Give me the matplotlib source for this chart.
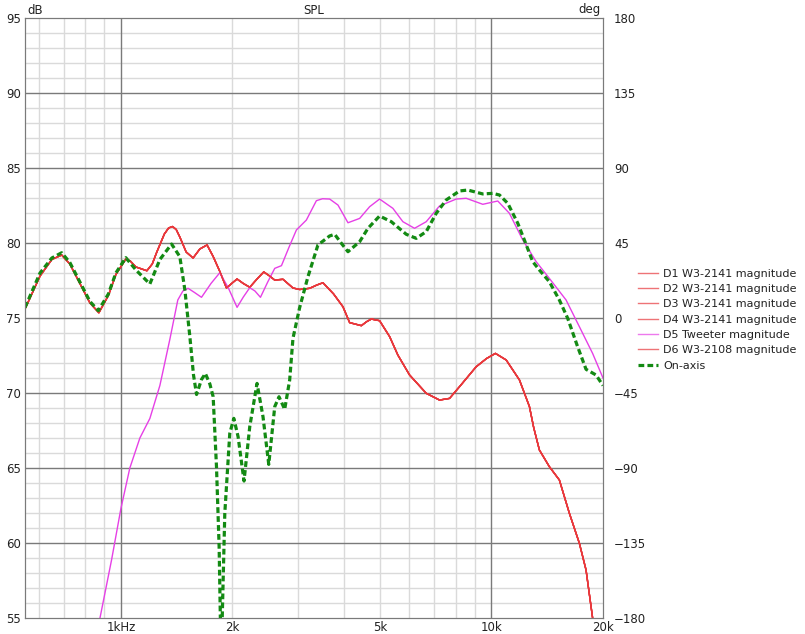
import matplotlib.pyplot as plt
from matplotlib.ticker import FixedLocator, NullFormatter

# D1..D4 / D6 woofer magnitude (all the same curve on screen)
woofer_freq = [551, 605, 651, 692, 728, 775, 825, 872, 925, 969, 1031, 1060, 1098, 1175,
               1215, 1250, 1310, 1345, 1378, 1410, 1442, 1500, 1566, 1633, 1708, 1774,
               1849, 1927, 1990, 2058, 2140, 2227, 2330, 2429, 2520, 2600, 2738, 2913,
               3037, 3232, 3380, 3510, 3750, 3974, 4143, 4456, 4600, 4740, 4990, 5311,
               5590, 6012, 6668, 7242, 7706, 8199, 9094, 9700, 10250, 10960, 11900,
               12660, 13000, 13470, 14330, 15250, 16230, 17270, 18000, 18750, 20000]
woofer_db = [75.6, 77.8, 78.9, 79.2, 78.6, 77.3, 76.0, 75.35, 76.5, 77.9, 78.93, 78.8,
             78.4, 78.15, 78.6, 79.4, 80.6, 81.0, 81.1, 80.9, 80.4, 79.4, 79.0, 79.6,
             79.87, 79.1, 78.1, 77.0, 77.3, 77.6, 77.3, 77.05, 77.6, 78.07, 77.8,
             77.53, 77.58, 77.0, 76.9, 76.98, 77.2, 77.35, 76.6, 75.75, 74.69, 74.49,
             74.75, 74.93, 74.82, 73.76, 72.53, 71.2, 69.98, 69.53, 69.64, 70.42, 71.75,
             72.3, 72.64, 72.2, 70.87, 69.1, 67.7, 66.2, 65.09, 64.2, 61.98, 59.98, 58.2,
             55.0, 51.5]

# D5 tweeter magnitude
tweeter_freq = [860, 878, 944, 1000, 1057, 1125, 1197, 1274, 1356, 1424, 1470, 1518,
                1580, 1650, 1750, 1849, 1950, 2058, 2140, 2227, 2300, 2380, 2490,
                2601, 2712, 2840, 2976, 3166, 3369, 3500, 3659, 3853, 4100, 4409,
                4691, 4990, 5420, 5767, 6201, 6668, 7242, 8033, 8548, 9476, 10400,
                11180, 12150, 13200, 14330, 15900, 17270, 18750, 20000]
tweeter_db = [48.0, 55.0, 58.9, 62.3, 65.0, 67.0, 68.3, 70.5, 73.6, 76.2, 76.8, 76.98,
              76.7, 76.38, 77.3, 78.02, 77.0, 75.71, 76.4, 77.02, 76.8, 76.38, 77.4,
              78.31, 78.49, 79.7, 80.87, 81.53, 82.82, 82.95, 82.93, 82.53, 81.35, 81.64,
              82.42, 82.93, 82.31, 81.42, 80.98, 81.42, 82.47, 82.93, 82.98, 82.58, 82.8,
              81.98, 80.2, 78.76, 77.64, 76.2, 74.42, 72.64, 71.0]

# On-axis sum
onaxis_freq = [551, 605, 651, 692, 728, 775, 825, 869, 925, 969, 1031, 1098, 1197,
               1274, 1370, 1442, 1488, 1535, 1570, 1600, 1650, 1690, 1738, 1774, 1811,
               1841, 1864, 1907, 1967, 2017, 2071, 2149, 2227, 2330, 2418, 2506, 2601,
               2671, 2767, 2854, 2913, 3037, 3198, 3402, 3659, 3775, 3935, 4100, 4409,
               4642, 4990, 5366, 5890, 6266, 6668, 7096, 7550, 8199, 8633, 9476,
               10080, 10510, 11070, 11780, 12270, 12920, 13470, 14330, 15250, 16060,
               17080, 18000, 19150, 20000]
onaxis_db = [75.7, 78.0, 79.0, 79.35, 78.7, 77.4, 76.1, 75.49, 76.6, 78.0, 79.02, 78.2,
             77.27, 78.9, 79.93, 79.09, 76.87, 73.75, 71.2, 69.9, 70.9, 71.3, 70.6, 69.75,
             65.09, 59.75, 52.0, 61.98, 67.31, 68.31, 67.09, 64.13, 67.76, 70.64, 68.42,
             65.24, 69.09, 69.75, 68.91, 70.87, 73.65, 75.7, 77.76, 79.87, 80.47, 80.58,
             79.98, 79.42, 80.09, 80.98, 81.8, 81.42, 80.58, 80.31, 80.76, 81.98, 82.87,
             83.47, 83.53, 83.27, 83.31, 83.2, 82.64, 81.31, 80.2, 78.76, 78.2, 77.42,
             76.2, 74.98, 73.09, 71.58, 71.2, 70.5]

woofer_labels = ["D1 W3-2141 magnitude", "D2 W3-2141 magnitude",
                 "D3 W3-2141 magnitude", "D4 W3-2141 magnitude"]

x_ticks = [1000, 2000, 5000, 10000, 20000]
x_tick_labels = ["1kHz", "2k", "5k", "10k", "20k"]
y_ticks = [55, 60, 65, 70, 75, 80, 85, 90, 95]
deg_ticks = [-180, -135, -90, -45, 0, 45, 90, 135, 180]

RED = "#e8383c"
MAGENTA = "#e640e6"
GREEN = "#138a13"
MAJOR = "#7a7a7a"
MINOR = "#dadada"

plt.rcParams['font.family'] = ['DejaVu Sans']
fig = plt.figure(figsize=(8.05, 6.34), dpi=100)
ax = fig.add_axes([25 / 805, 1 - 618 / 634, 578 / 805, 600 / 634])

ax.set_xscale("log")
ax.set_xlim(551, 20000)
ax.set_ylim(55, 95)

# grid
minor_x = [600, 700, 800, 900, 2000, 3000, 4000, 5000, 6000, 7000, 8000, 9000]
for f in minor_x:
    ax.axvline(f, color=MINOR, lw=1, zorder=0)
for f in [1000, 10000]:
    ax.axvline(f, color=MAJOR, lw=1, zorder=0.5)
for v in range(56, 95):
    ax.axhline(v, color=MAJOR if v % 5 == 0 else MINOR, lw=1,
               zorder=0.5 if v % 5 == 0 else 0)

for lab in woofer_labels:
    ax.plot(woofer_freq, woofer_db, color=RED, lw=1, label=lab, zorder=2)
ax.plot(tweeter_freq, tweeter_db, color=MAGENTA, lw=1, label="D5 Tweeter magnitude", zorder=2)
ax.plot(woofer_freq, woofer_db, color=RED, lw=1, label="D6 W3-2108 magnitude", zorder=2)
ax.plot(onaxis_freq, onaxis_db, color=GREEN, lw=2.3, linestyle=(0, (1.8, 1.0)),
        label="On-axis", zorder=3)

ax.xaxis.set_major_locator(FixedLocator(x_ticks))
ax.set_xticklabels(x_tick_labels)
ax.xaxis.set_minor_formatter(NullFormatter())
ax.xaxis.set_minor_locator(FixedLocator([]))
ax.set_yticks(y_ticks)
ax.tick_params(length=0, labelsize=8.5, colors="#222222", pad=3)
ax.tick_params(axis="x", pad=2)
for s in ax.spines.values():
    s.set_color(MAJOR)

ax2 = ax.twinx()
ax2.set_ylim(-180, 180)
ax2.set_yticks(deg_ticks)
ax2.tick_params(length=0, labelsize=8.5, colors="#222222", pad=8)
for s in ax2.spines.values():
    s.set_color(MAJOR)

fig.text(27 / 805, 1 - 10 / 634, "dB", fontsize=8.5, ha="left", va="center", color="#222222")
fig.text(601 / 805, 1 - 10 / 634, "deg", fontsize=8.5, ha="right", va="center", color="#222222")
fig.text(314 / 805, 1 - 10 / 634, "SPL", fontsize=8.5, ha="center", va="center", color="#222222")

handles, labels = ax.get_legend_handles_labels()
leg = fig.legend(handles, labels, loc="upper left", bbox_to_anchor=(632 / 805, 1 - 263 / 634),
                 frameon=False, fontsize=8, handlelength=1.8, handletextpad=0.5,
                 labelspacing=0.48, borderpad=0)
for t in leg.get_texts():
    t.set_color("#222222")
for h in leg.legend_handles[:4] + [leg.legend_handles[5]]:
    h.set_alpha(0.7)
leg.legend_handles[4].set_alpha(0.7)

fig.savefig("out.png", dpi=100)
